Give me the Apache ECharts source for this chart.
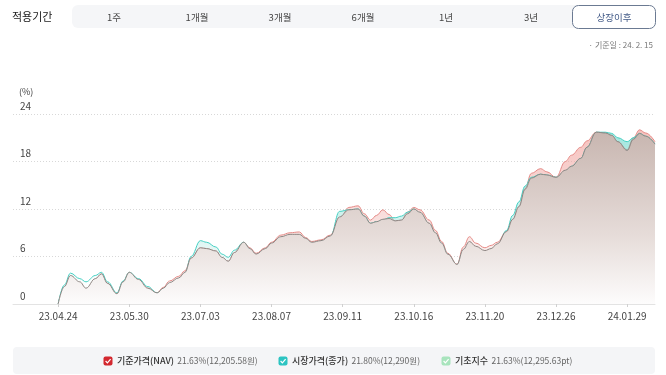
<!DOCTYPE html>
<html><head><meta charset="utf-8">
<script src="https://cdn.jsdelivr.net/npm/echarts@6/dist/echarts.min.js"></script>
<style>html,body{margin:0;padding:0;background:#fff}#c{width:666px;height:375px}</style>
</head><body><div id="c"></div>
<script>
// x positions are trading-day indices since listing (23.04.24 = 0)
const tickLabels = ['23.04.24','23.05.30','23.07.03','23.08.07','23.09.11','23.10.16','23.11.20','23.12.26','24.01.29'];
const tickIdx = [0,23,46,69,92,115,138,161,184];
const yTicks = [0,6,12,18,24];
const dayIdx = [0,2,4,7,9,12,14,16,19,21,23,26,29,32,34,36,39,41,43,46,48,51,53,55,57,60,62,64,67,69,72,75,78,80,82,85,88,91,94,97,99,101,103,105,107,109,111,113,115,117,120,122,124,126,129,131,133,135,138,140,142,145,147,149,151,153,156,158,161,164,166,169,171,174,177,179,181,184,186,188,190,193];
const idxVals = [0,2.2,3.6,2.8,2.0,3.2,3.8,2.6,1.3,2.8,4.0,3.1,2.0,1.4,2.0,2.7,3.3,4.0,5.8,7.1,7.0,6.7,5.9,5.4,6.5,7.8,7.0,6.3,7.0,7.7,8.5,8.8,8.8,8.3,7.8,8.0,8.6,11.0,11.9,12.0,11.1,10.2,10.4,10.7,10.8,10.5,10.6,11.4,12.0,11.6,10.2,9.0,7.7,6.3,5.0,6.9,7.9,7.3,6.75,7.0,7.6,9.15,10.7,12.3,14.5,15.9,16.4,16.3,16.0,16.9,17.4,18.4,19.8,21.7,21.6,21.3,20.5,19.4,20.8,21.55,21.2,20.2];
const navVals = [0,2.0,3.5,2.5,1.8,3.1,3.8,2.6,1.3,2.8,4.0,2.9,2.0,1.4,2.1,2.9,3.5,4.2,5.8,7.1,7.0,6.7,5.8,5.4,6.5,7.8,7.1,6.4,7.1,7.8,8.7,9.0,9.1,8.4,7.9,8.1,8.7,10.8,12.2,12.4,11.4,10.6,11.2,11.9,11.3,10.5,10.6,11.6,12.2,11.9,10.6,9.3,7.9,6.4,5.0,7.2,8.5,7.7,7.1,7.4,7.8,9.2,10.7,12.3,14.6,16.5,17.1,16.7,16.0,18.0,18.8,19.8,20.6,21.7,21.6,21.3,20.5,19.5,21.0,22.0,21.6,20.5];
const mktVals = [0,2.4,3.9,3.2,2.8,3.6,4.0,2.8,1.4,2.9,4.0,3.2,2.2,1.4,1.9,2.5,3.1,3.9,6.0,8.0,7.8,7.2,6.3,5.9,6.8,7.8,6.9,6.1,6.9,7.6,8.4,8.7,8.7,8.2,7.7,7.9,8.5,11.7,11.9,12.0,11.1,10.2,10.4,10.6,10.9,10.9,11.1,11.6,12.0,11.5,10.1,8.9,7.6,6.2,4.9,6.6,7.6,6.9,6.3,6.6,7.2,9.3,11.2,12.9,14.9,16.0,16.4,16.3,16.0,16.8,17.4,18.4,19.8,21.7,21.7,21.55,21.0,20.5,21.0,21.55,21.2,20.2];

const legendNames = ['기준가격(NAV)','시장가격(종가)','기초지수'];
const legendValues = ['21.63%(12,205.58원)','21.80%(12,290원)','21.63%(12,295.63pt)'];
const periods = ['1주','1개월','3개월','6개월','1년','3년'];

const FONT = '"Noto Sans CJK KR", "Noto Sans", sans-serif';
const pts = v => dayIdx.map((d,i)=>[d, v[i]]);
const grad = (top, mid, bot) => new echarts.graphic.LinearGradient(0,0,0,1,[{offset:0,color:top},{offset:0.6,color:mid},{offset:1,color:bot}]);

const periodX = [114,197,280,363,446,531];
const legendX = [108,283,446];
const legendColors = ['#d3282f','#2cc4c2','#a8e4bd'];

const chart = echarts.init(document.getElementById('c'), null, {renderer:'canvas'});

function txt(text,x,y,size,fill,align,weight){
  return {type:'text',silent:true,style:{text,x,y,fontSize:size,fontFamily:FONT,fill,align:align||'left',verticalAlign:'middle',fontWeight:weight||'normal'}};
}
function checkbox(cx,cy,color){
  return {type:'group',silent:true,children:[
    {type:'rect',shape:{x:cx-4.5,y:cy-4.5,width:9,height:9,r:2},style:{fill:color}},
    {type:'polyline',shape:{points:[[cx-2.4,cy],[cx-0.6,cy+1.8],[cx+2.6,cy-1.8]]},style:{stroke:'#fff',lineWidth:1.2,fill:null}}
  ]};
}
function legendText(i){
  return {type:'text',silent:true,style:{
    text:'{a|'+legendNames[i]+'} {b|'+legendValues[i]+'}',
    x:legendX[i]+9,y:361,verticalAlign:'middle',align:'left',
    rich:{a:{fontSize:9,fontFamily:FONT,fill:'#333',fontWeight:500},b:{fontSize:8.5,fontFamily:FONT,fill:'#666'}}
  }};
}

const graphics = [
  txt('적용기간',12,17,11,'#222'),
  {type:'rect',silent:true,shape:{x:72,y:5,width:540,height:23,r:6},style:{fill:'#f5f6f8'}},
  ...periods.map((p,i)=>txt(p,periodX[i],17,9.5,'#444','center')),
  {type:'rect',silent:true,shape:{x:572.5,y:5.5,width:83,height:23,r:6},style:{fill:'#fff',stroke:'#6b7a92',lineWidth:1}},
  txt('상장이후',614,17,9.5,'#3f5785','center'),
  txt('· 기준일 : 24. 2. 15',653,45,8,'#777','right'),
  txt('(%)',19,92,9,'#444'),
  {type:'rect',silent:true,shape:{x:13,y:347,width:642,height:27,r:4},style:{fill:'#f4f5f7'}},
  ...legendX.map((x,i)=>checkbox(x,361,legendColors[i])),
  ...legendX.map((x,i)=>legendText(i))
];

chart.setOption({
  animation:false,
  grid:{left:13,right:11,top:114,bottom:71},
  xAxis:{type:'value',min:-14.6,max:193,
    axisLine:{show:true,lineStyle:{color:'#e3e3e3'}},
    axisTick:{show:true,customValues:tickIdx,length:3,lineStyle:{color:'#d0d0d0'}},
    axisLabel:{customValues:tickIdx,formatter:v=>{const k=tickIdx.indexOf(Math.round(v));return k>=0?tickLabels[k]:'';},fontSize:10,color:'#444',fontFamily:FONT,margin:7},
    splitLine:{show:false}},
  yAxis:{type:'value',min:0,max:24,interval:6,
    axisLine:{show:false},axisTick:{show:false},
    axisLabel:{inside:true,margin:7,verticalAlign:'bottom',padding:[0,0,3,0],fontSize:10,color:'#444',fontFamily:FONT,
      formatter:v=>yTicks.includes(v)?String(v):''},
    splitLine:{show:true,lineStyle:{color:'#d8d8d8',type:[1,2],width:1}}},
  series:[
    {name:legendNames[0],type:'line',data:pts(navVals),smooth:0.4,smoothMonotone:'x',showSymbol:false,z:2,
      lineStyle:{color:'#e48a86',width:1},
      areaStyle:{color:grad('rgba(240,150,144,0.85)','rgba(242,190,186,0.6)','rgba(255,255,255,0)')}},
    {name:legendNames[1],type:'line',data:pts(mktVals),smooth:0.4,smoothMonotone:'x',showSymbol:false,z:3,
      lineStyle:{color:'#45cfc2',width:1},
      areaStyle:{color:grad('rgba(100,214,200,0.85)','rgba(160,228,220,0.6)','rgba(255,255,255,0)')}},
    {name:legendNames[2],type:'line',data:pts(idxVals),smooth:0.4,smoothMonotone:'x',showSymbol:false,z:4,
      lineStyle:{color:'#8e8683',width:1},
      areaStyle:{color:grad('#c8b6b0','#e6dcd9','#fdfcfc'),opacity:1}}
  ],
  graphic:graphics
});
</script></body></html>
